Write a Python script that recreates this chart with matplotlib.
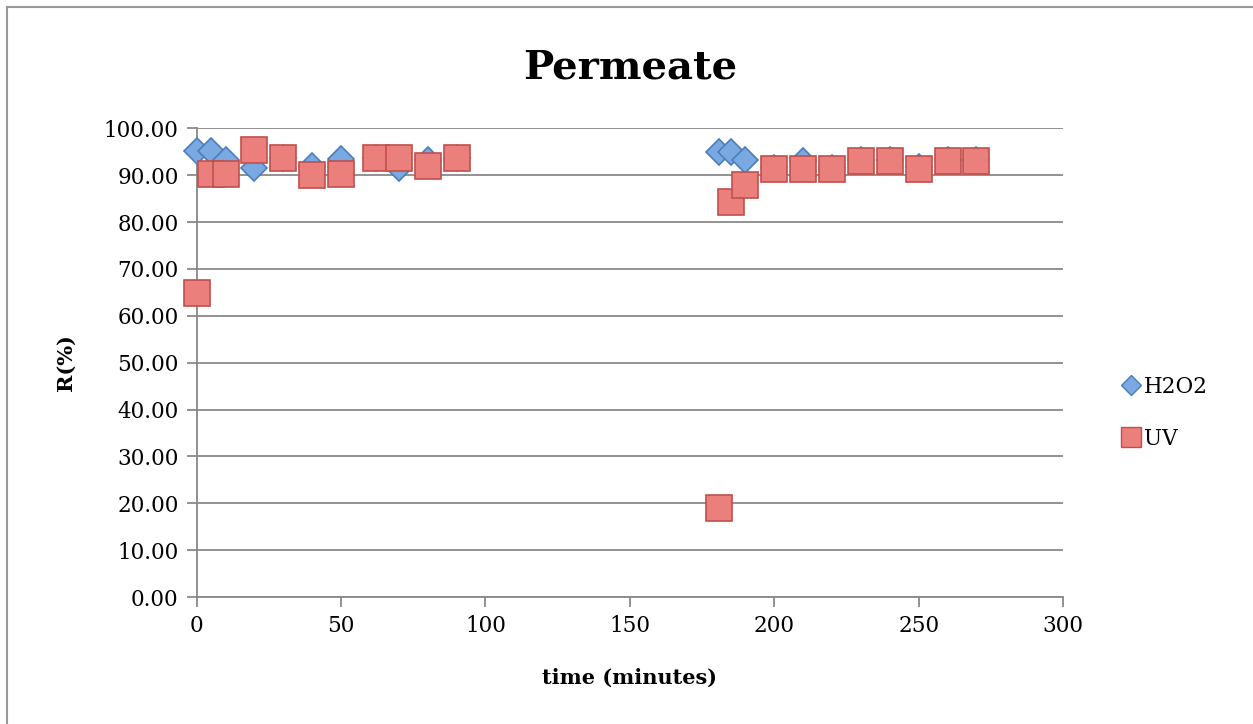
import matplotlib
matplotlib.use("Agg")
import matplotlib.pyplot as plt
from matplotlib.lines import Line2D

plt.rcParams['font.family'] = ['DejaVu Serif']

# time (minutes)
time_h2o2 = [0, 5, 10, 20, 30, 40, 50, 62, 70, 80, 90,
             181, 185, 190, 200, 210, 220, 230, 240, 250, 260, 270]
r_h2o2 = [95.2, 95.2, 93.2, 91.6, 93.7, 91.9, 93.4, 93.7, 91.6, 93.3, 93.7,
          95.0, 95.0, 93.2, 91.5, 93.1, 91.5, 93.2, 93.2, 91.7, 93.2, 93.2]

time_uv = [0, 5, 10, 20, 30, 40, 50, 62, 70, 80, 90,
           181, 185, 190, 200, 210, 220, 230, 240, 250, 260, 270]
r_uv = [64.8, 90.2, 90.2, 95.3, 93.7, 90.1, 90.2, 93.7, 93.7, 92.0, 93.7,
        19.0, 84.3, 87.8, 91.3, 91.3, 91.3, 93.1, 93.1, 91.3, 93.1, 93.1]

y_ticks = list(range(0, 101, 10))
x_ticks = [0, 50, 100, 150, 200, 250, 300]

fig = plt.figure(figsize=(12.53, 7.24), dpi=100)
ax = fig.add_axes([0.157, 0.1754, 0.6914, 0.6474])

ax.plot(time_h2o2, r_h2o2, linestyle='none', marker='D', markersize=13.5,
        markerfacecolor='#7aa8e0', markeredgecolor='#4a7ebb', markeredgewidth=1.2,
        label='H2O2', zorder=3, clip_on=False)
ax.plot(time_uv, r_uv, linestyle='none', marker='s', markersize=18.5,
        markerfacecolor='#eb7f7b', markeredgecolor='#c0504d', markeredgewidth=1.2,
        label='UV', zorder=4, clip_on=False)

ax.set_xlim(0, 300)
ax.set_ylim(0, 100)
ax.set_xticks(x_ticks)
ax.set_yticks(y_ticks)
ax.set_yticklabels([f'{v:.2f}' for v in y_ticks])
ax.grid(axis='y', color='#898989', linewidth=1.3, zorder=0)
ax.set_axisbelow(True)

for side in ['top', 'right']:
    ax.spines[side].set_visible(False)
for side in ['left', 'bottom']:
    ax.spines[side].set_color('#898989')
    ax.spines[side].set_linewidth(1.3)
ax.tick_params(axis='both', colors='#898989', length=7, width=1.3,
               labelsize=15.5, labelcolor='black', pad=6)

ax.set_title('Permeate', fontsize=29, fontweight='bold', pad=36)
ax.set_xlabel('time (minutes)', fontsize=15, fontweight='bold', labelpad=22)
ax.set_ylabel('R(%)', fontsize=15, fontweight='bold', labelpad=20)

handles = [Line2D([], [], linestyle='none', marker='D', markersize=10,
                  markerfacecolor='#7aa8e0', markeredgecolor='#4a7ebb'),
           Line2D([], [], linestyle='none', marker='s', markersize=14,
                  markerfacecolor='#eb7f7b', markeredgecolor='#c0504d')]
fig.legend(handles, ['H2O2', 'UV'], loc='center left',
           bbox_to_anchor=(0.882, 0.43), frameon=False, fontsize=15.5,
           handlelength=0.6, handletextpad=0.3, labelspacing=1.4)

# outer chart border (top and left edges visible)
fig.add_artist(Line2D([7 / 1253, 7 / 1253], [0, 1 - 7 / 724],
                      transform=fig.transFigure, color='#999999', linewidth=1.5))
fig.add_artist(Line2D([7 / 1253, 1], [1 - 7 / 724, 1 - 7 / 724],
                      transform=fig.transFigure, color='#999999', linewidth=1.5))

fig.savefig('out.png', dpi=100)
